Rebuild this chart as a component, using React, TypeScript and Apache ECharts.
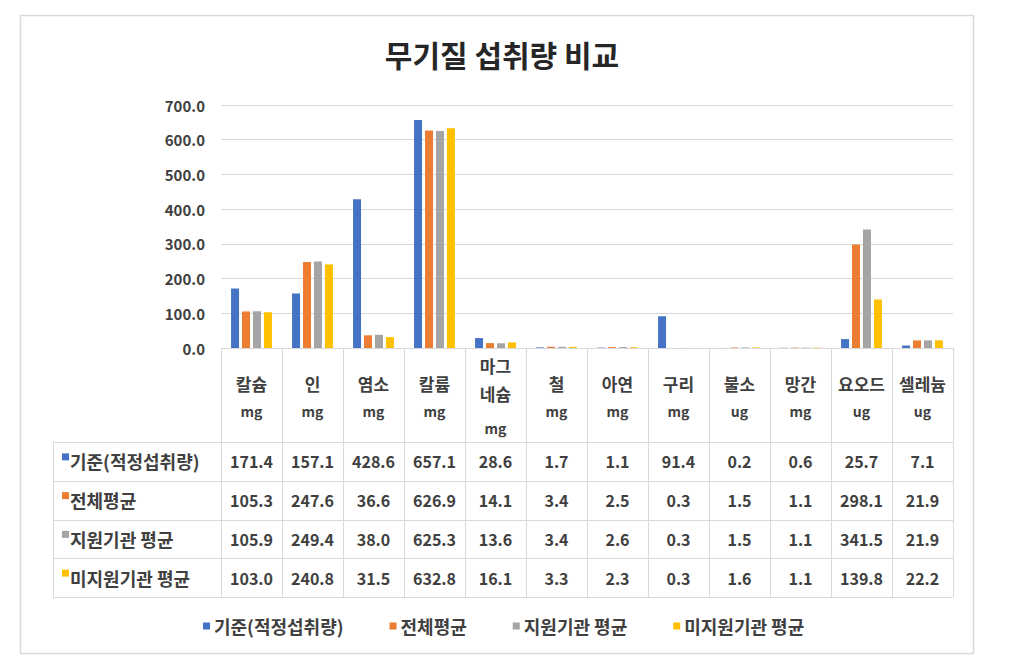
import React, { useEffect, useRef } from "react";
import * as echarts from "echarts";

const title = "무기질 섭취량 비교";
const categories = ["칼슘", "인", "염소", "칼륨", "마그네슘", "철", "아연", "구리", "불소", "망간", "요오드", "셀레늄"];
const units = ["mg", "mg", "mg", "mg", "mg", "mg", "mg", "mg", "ug", "mg", "ug", "ug"];
const seriesNames = ["기준(적정섭취량)", "전체평균", "지원기관 평균", "미지원기관 평균"];
const standard = [171.4, 157.1, 428.6, 657.1, 28.6, 1.7, 1.1, 91.4, 0.2, 0.6, 25.7, 7.1];
const overall = [105.3, 247.6, 36.6, 626.9, 14.1, 3.4, 2.5, 0.3, 1.5, 1.1, 298.1, 21.9];
const supported = [105.9, 249.4, 38.0, 625.3, 13.6, 3.4, 2.6, 0.3, 1.5, 1.1, 341.5, 21.9];
const unsupported = [103.0, 240.8, 31.5, 632.8, 16.1, 3.3, 2.3, 0.3, 1.6, 1.1, 139.8, 22.2];
const colors = ["#4472C4", "#ED7D31", "#A5A5A5", "#FFC000"];
const yMin = 0;
const yMax = 700;
const yStep = 100;

const W = 1016;
const H = 662;
const GRID_LEFT = 221;
const GRID_RIGHT_X = 953;
const GRID_TOP = 105;
const GRID_BOTTOM_Y = 348;
const HEADER_BOTTOM = 442;
const TABLE_BOTTOM = 597;
const LABEL_LEFT = 53;
const FONT = '"Noto Sans CJK KR", "Noto Sans", sans-serif';
const LINE = "#D9D9D9";
const TXT = "#404040";

export default function App() {
  const ref = useRef<HTMLDivElement>(null);
  useEffect(() => {
    document.body.style.margin = "0";
    const chart = echarts.init(ref.current!, null, { renderer: "svg" });
    const data = [standard, overall, supported, unsupported];
    const n = categories.length;
    const colW = (GRID_RIGHT_X - GRID_LEFT) / n;
    const rowH = (TABLE_BOTTOM - HEADER_BOTTOM) / data.length;
    const g: any[] = [];
    // outer frame
    g.push({ type: "rect", shape: { x: 20.5, y: 15.5, width: 953, height: 638 }, style: { fill: "none", stroke: LINE, lineWidth: 1.5 }, silent: true });
    // table lines
    for (let i = 0; i <= n; i++) {
      const x = Math.round(GRID_LEFT + i * colW) + 0.5;
      g.push({ type: "line", shape: { x1: x, y1: GRID_BOTTOM_Y, x2: x, y2: TABLE_BOTTOM }, style: { stroke: LINE, lineWidth: 1 } });
    }
    g.push({ type: "line", shape: { x1: LABEL_LEFT + 0.5, y1: HEADER_BOTTOM, x2: LABEL_LEFT + 0.5, y2: TABLE_BOTTOM }, style: { stroke: LINE, lineWidth: 1 } });
    for (let r = 0; r <= data.length; r++) {
      const y = Math.round(HEADER_BOTTOM + r * rowH) + 0.5;
      g.push({ type: "line", shape: { x1: LABEL_LEFT, y1: y, x2: GRID_RIGHT_X, y2: y }, style: { stroke: LINE, lineWidth: 1 } });
    }
    // header
    const nameFont = `bold 17px ${FONT}`;
    const unitFont = `bold 14px ${FONT}`;
    categories.forEach((c, i) => {
      const cx = GRID_LEFT + (i + 0.5) * colW;
      const lines = c.length > 3 ? [c.slice(0, 2), c.slice(2)] : [c];
      if (lines.length === 1) {
        g.push({ type: "text", x: cx, y: 383, style: { text: lines[0], font: nameFont, fill: TXT, textAlign: "center", textVerticalAlign: "middle" } });
        g.push({ type: "text", x: cx, y: 411, style: { text: units[i], font: unitFont, fill: TXT, textAlign: "center", textVerticalAlign: "middle" } });
      } else {
        g.push({ type: "text", x: cx, y: 365, style: { text: lines[0], font: nameFont, fill: TXT, textAlign: "center", textVerticalAlign: "middle" } });
        g.push({ type: "text", x: cx, y: 393, style: { text: lines[1], font: nameFont, fill: TXT, textAlign: "center", textVerticalAlign: "middle" } });
        g.push({ type: "text", x: cx, y: 428, style: { text: units[i], font: unitFont, fill: TXT, textAlign: "center", textVerticalAlign: "middle" } });
      }
    });
    // rows
    data.forEach((arr, r) => {
      const cy = HEADER_BOTTOM + (r + 0.5) * rowH;
      g.push({ type: "rect", shape: { x: 62, y: cy - 8, width: 7, height: 7 }, style: { fill: colors[r] } });
      g.push({ type: "text", x: 70, y: cy, style: { text: seriesNames[r], font: `bold 18px ${FONT}`, fill: TXT, textAlign: "left", textVerticalAlign: "middle" } });
      arr.forEach((v, i) => {
        const cx = GRID_LEFT + (i + 0.5) * colW;
        g.push({ type: "text", x: cx, y: cy, style: { text: v.toFixed(1), font: `bold 16px ${FONT}`, fill: TXT, textAlign: "center", textVerticalAlign: "middle" } });
      });
    });

    chart.setOption({
      animation: false,
      backgroundColor: "#ffffff",
      title: {
        text: title,
        left: 497,
        textAlign: "center",
        top: 34,
        textStyle: { fontFamily: FONT, fontSize: 30, fontWeight: "bold", color: "#262626" },
      },
      legend: {
        top: 612,
        left: 198,
        icon: "rect",
        itemWidth: 7,
        itemHeight: 7,
        itemGap: 46,
        textStyle: { fontFamily: FONT, fontSize: 18, fontWeight: "bold", color: TXT, padding: [0, 0, 0, -1] },
        data: seriesNames,
      },
      grid: { left: GRID_LEFT, right: W - GRID_RIGHT_X, top: GRID_TOP, bottom: H - GRID_BOTTOM_Y, containLabel: false },
      xAxis: {
        type: "category",
        data: categories,
        axisLabel: { show: false },
        axisTick: { show: false },
        axisLine: { lineStyle: { color: LINE } },
      },
      yAxis: {
        type: "value",
        min: yMin,
        max: yMax,
        interval: yStep,
        axisLabel: { formatter: (v: number) => v.toFixed(1), fontFamily: FONT, fontSize: 15, fontWeight: "bold", color: TXT, margin: 16 },
        splitLine: { lineStyle: { color: LINE } },
        axisLine: { show: false },
        axisTick: { show: false },
      },
      series: data.map((arr, i) => ({
        name: seriesNames[i],
        type: "bar",
        data: arr,
        barWidth: 8,
        barGap: "37%",
        itemStyle: { color: colors[i] },
      })),
      graphic: g,
    });
    return () => chart.dispose();
  }, []);
  return <div ref={ref} style={{ width: W, height: H }} />;
}
